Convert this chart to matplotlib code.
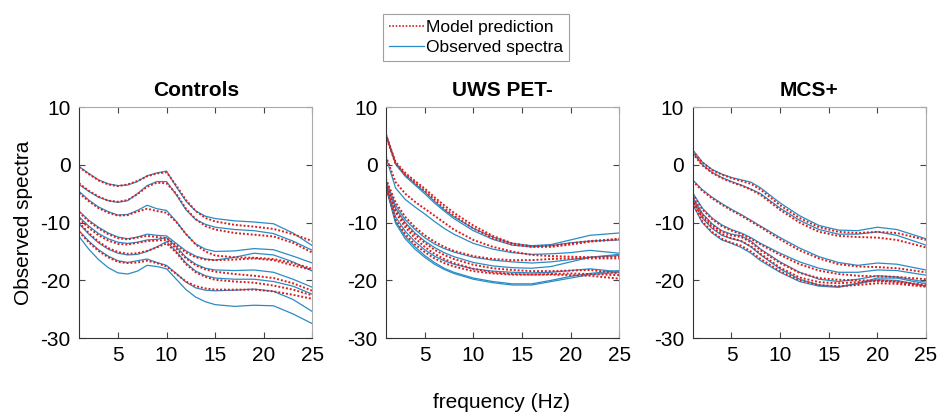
import matplotlib
matplotlib.use("Agg")
import matplotlib.pyplot as plt
from matplotlib.lines import Line2D

plt.rcParams['font.family'] = ['Liberation Sans', 'DejaVu Sans']
plt.rcParams['axes.unicode_minus'] = False

# Данные: частоты и спектры (дБ) для трёх групп
freq_ctrl = [1, 2, 3, 4, 5, 6, 7, 8, 9, 10, 11, 12, 13, 14, 15, 17, 19, 21, 23, 25]
ctrl_obs = [
    [-0.3, -1.5, -2.6, -3.3, -3.6, -3.5, -2.9, -1.9, -1.4, -1.1, -3.8, -6.3, -8.0, -8.9, -9.3, -9.7, -9.9, -10.2, -11.8, -14.0],
    [-3.4, -4.6, -5.6, -6.2, -6.5, -6.2, -5.0, -3.6, -2.9, -2.9, -5.2, -7.8, -9.5, -10.3, -10.8, -11.2, -11.4, -11.9, -13.2, -14.8],
    [-4.6, -6.1, -7.3, -8.1, -8.7, -8.6, -7.9, -7.0, -7.6, -7.9, -9.8, -12.0, -13.7, -14.6, -15.0, -14.9, -14.5, -14.7, -15.8, -17.0],
    [-8.0, -9.6, -10.8, -11.8, -12.5, -12.8, -12.5, -12.0, -12.2, -12.3, -13.6, -14.9, -15.8, -16.3, -16.5, -16.0, -15.3, -15.6, -16.8, -18.4],
    [-9.0, -10.6, -11.9, -12.8, -13.4, -13.6, -13.4, -13.0, -12.9, -12.6, -14.2, -16.0, -17.2, -17.9, -18.2, -18.3, -18.2, -18.6, -19.8, -21.2],
    [-10.2, -12.0, -13.5, -14.6, -15.3, -15.6, -15.5, -15.0, -14.2, -13.3, -15.0, -17.0, -18.4, -19.2, -19.6, -19.8, -19.8, -20.2, -21.0, -22.4],
    [-11.4, -13.2, -14.7, -15.8, -16.6, -16.9, -16.6, -16.3, -16.9, -17.4, -18.8, -20.3, -21.3, -21.7, -21.8, -21.7, -21.5, -21.9, -23.3, -25.4],
    [-12.4, -14.6, -16.4, -17.8, -18.7, -18.9, -18.4, -17.4, -17.6, -18.0, -19.8, -21.6, -22.9, -23.7, -24.2, -24.5, -24.3, -24.4, -25.8, -27.5],
]
ctrl_model = [
    [-0.4, -1.6, -2.7, -3.4, -3.7, -3.4, -2.8, -2.0, -1.5, -1.3, -3.6, -6.1, -8.0, -9.2, -9.8, -10.4, -10.7, -11.1, -12.0, -13.2],
    [-3.2, -4.5, -5.5, -6.2, -6.4, -6.1, -5.1, -3.8, -3.1, -3.2, -5.0, -7.6, -9.4, -10.6, -11.2, -11.8, -12.1, -12.4, -13.5, -15.2],
    [-4.9, -6.3, -7.5, -8.3, -8.8, -8.7, -8.1, -7.6, -8.0, -8.3, -9.9, -12.0, -13.8, -15.0, -15.7, -16.0, -16.1, -16.3, -17.0, -18.0],
    [-8.2, -9.8, -11.0, -12.0, -12.7, -12.9, -12.6, -12.3, -12.5, -12.7, -13.9, -15.2, -16.0, -16.4, -16.5, -16.4, -16.2, -16.5, -17.4, -18.2],
    [-9.3, -10.9, -12.2, -13.1, -13.7, -13.8, -13.5, -13.2, -13.1, -13.0, -14.5, -16.2, -17.4, -18.1, -18.5, -18.9, -19.2, -19.6, -20.5, -21.8],
    [-10.0, -11.8, -13.3, -14.4, -15.1, -15.4, -15.3, -14.9, -14.3, -13.6, -15.2, -17.2, -18.6, -19.4, -19.9, -20.2, -20.4, -20.9, -21.6, -22.6],
    [-11.6, -13.4, -14.9, -16.0, -16.8, -17.0, -16.9, -16.6, -17.0, -17.6, -18.9, -20.2, -21.0, -21.4, -21.6, -21.6, -21.6, -21.9, -22.5, -23.2],
]

freq_uws = [1, 2, 3, 4, 5, 6, 7, 8, 10, 12, 14, 16, 18, 20, 22, 25]
uws_obs = [
    [5.5, 0.3, -1.8, -3.3, -4.7, -6.3, -7.8, -9.0, -11.0, -12.5, -13.6, -14.0, -13.8, -13.0, -12.2, -11.8],
    [5.2, 0.1, -2.0, -3.5, -5.0, -6.6, -8.0, -9.3, -11.4, -12.9, -13.9, -14.2, -14.0, -13.5, -13.2, -13.0],
    [1.4, -4.0, -6.0, -7.3, -8.5, -9.8, -11.0, -12.0, -13.6, -14.6, -15.2, -15.5, -15.4, -15.2, -14.8, -15.3],
    [-2.6, -7.0, -9.5, -11.2, -12.6, -13.7, -14.5, -15.1, -16.0, -16.5, -16.8, -17.0, -16.8, -16.4, -16.0, -15.5],
    [-3.0, -7.5, -10.0, -11.8, -13.2, -14.3, -15.2, -15.9, -16.9, -17.5, -17.8, -17.9, -17.6, -16.8, -16.0, -15.7],
    [-3.5, -9.0, -11.5, -13.3, -14.7, -15.8, -16.6, -17.2, -18.0, -18.4, -18.6, -18.7, -18.6, -18.3, -18.0, -18.5],
    [-3.8, -10.1, -12.8, -14.6, -16.0, -17.2, -18.1, -18.8, -19.8, -20.4, -20.8, -20.8, -20.2, -19.6, -19.0, -18.6],
    [-3.7, -9.8, -12.4, -14.2, -15.7, -16.9, -17.9, -18.6, -19.6, -20.2, -20.6, -20.6, -20.0, -19.3, -18.8, -18.3],
]
uws_model = [
    [5.3, 0.5, -1.4, -2.8, -4.1, -5.6, -7.0, -8.3, -10.5, -12.3, -13.6, -14.1, -14.0, -13.6, -13.2, -12.8],
    [5.0, 0.2, -1.7, -3.1, -4.5, -6.0, -7.5, -8.8, -11.0, -12.7, -13.8, -14.2, -14.2, -13.8, -13.3, -12.9],
    [1.5, -3.0, -5.0, -6.4, -7.6, -8.8, -10.0, -11.2, -13.0, -14.2, -15.0, -15.6, -15.8, -15.9, -16.0, -15.9],
    [-2.4, -6.5, -9.0, -10.8, -12.2, -13.3, -14.2, -14.9, -15.8, -16.3, -16.5, -16.5, -16.3, -16.2, -16.2, -16.2],
    [-3.2, -7.8, -10.3, -12.1, -13.5, -14.7, -15.6, -16.3, -17.3, -17.9, -18.2, -18.4, -18.4, -18.3, -18.2, -18.8],
    [-3.3, -8.2, -10.8, -12.7, -14.2, -15.4, -16.3, -17.0, -18.0, -18.6, -18.9, -19.0, -19.0, -19.1, -19.2, -19.7],
    [-3.6, -9.5, -12.0, -13.8, -15.1, -16.2, -17.0, -17.6, -18.4, -18.8, -19.0, -19.0, -18.9, -18.8, -18.9, -19.1],
]

freq_mcs = [1, 2, 3, 4, 5, 6, 7, 8, 10, 12, 14, 16, 18, 20, 22, 25]
mcs_obs = [
    [2.6, 0.5, -0.8, -1.6, -2.2, -2.6, -3.0, -4.0, -6.6, -8.8, -10.5, -11.3, -11.4, -10.8, -11.2, -12.8],
    [2.2, 0.0, -1.3, -2.2, -2.9, -3.5, -4.2, -5.0, -7.5, -9.6, -11.2, -12.0, -12.0, -11.6, -12.2, -13.9],
    [-2.6, -4.3, -5.6, -6.7, -7.7, -8.6, -9.6, -10.6, -12.6, -14.4, -15.9, -16.9, -17.4, -17.0, -17.2, -18.2],
    [-4.8, -7.5, -9.2, -10.4, -11.2, -11.8, -12.6, -13.6, -15.3, -16.8, -17.9, -18.6, -18.6, -18.2, -18.3, -19.1],
    [-5.5, -8.4, -10.2, -11.4, -12.0, -12.3, -13.2, -14.6, -16.8, -18.6, -19.8, -20.2, -19.8, -19.2, -19.4, -20.3],
    [-6.2, -9.2, -11.0, -12.2, -12.8, -13.2, -14.2, -15.6, -18.0, -19.8, -20.8, -21.1, -20.5, -19.6, -19.6, -20.6],
    [-6.8, -10.0, -11.8, -13.0, -13.6, -14.3, -15.3, -16.6, -18.6, -20.2, -21.0, -21.2, -20.6, -19.9, -20.0, -21.0],
]
mcs_model = [
    [2.4, 0.4, -0.9, -1.7, -2.3, -2.8, -3.3, -4.3, -7.0, -9.2, -10.8, -11.6, -11.8, -11.6, -11.8, -13.0],
    [2.0, -0.1, -1.4, -2.3, -3.0, -3.6, -4.3, -5.2, -7.8, -10.0, -11.6, -12.3, -12.5, -12.6, -13.0, -14.3],
    [-2.8, -4.5, -5.8, -6.9, -7.9, -8.8, -9.8, -10.8, -12.9, -14.8, -16.2, -17.2, -17.6, -17.7, -17.9, -18.6],
    [-5.0, -7.7, -9.4, -10.6, -11.4, -12.0, -12.8, -13.8, -15.6, -17.2, -18.3, -18.9, -19.2, -19.3, -19.4, -19.8],
    [-5.7, -8.6, -10.4, -11.6, -12.2, -12.5, -13.4, -14.8, -17.0, -18.7, -19.6, -19.9, -20.0, -20.0, -20.2, -20.8],
    [-6.0, -9.0, -10.8, -12.0, -12.7, -13.2, -14.1, -15.4, -17.8, -19.5, -20.3, -20.5, -20.3, -20.1, -20.3, -21.0],
    [-6.6, -9.8, -11.6, -12.8, -13.5, -14.0, -15.0, -16.3, -18.4, -20.0, -20.8, -21.0, -20.8, -20.5, -20.6, -21.1],
]

titles = ['Controls', 'UWS PET-', 'MCS+']
panels = [
    (freq_ctrl, ctrl_obs, ctrl_model),
    (freq_uws, uws_obs, uws_model),
    (freq_mcs, mcs_obs, mcs_model),
]

obs_color = '#2a8cc4'
model_color = '#d81e1e'

fig = plt.figure(figsize=(9.41, 4.18), dpi=100)
lefts = [0.084, 0.410, 0.736]

for i, (freq, obs, model) in enumerate(panels):
    ax = fig.add_axes([lefts[i], 0.191, 0.248, 0.553])
    for y in obs:
        ax.plot(freq, y, color=obs_color, lw=0.9)
    for y in model:
        ax.plot(freq, y, color=model_color, lw=1.4, linestyle=(0, (1, 1)))
    ax.set_xlim(1, 25)
    ax.set_ylim(-30, 10)
    ax.set_xticks([5, 10, 15, 20, 25])
    ax.set_yticks([-30, -20, -10, 0, 10])
    ax.tick_params(direction='in', length=4, top=True, right=True,
                   labelsize=15, pad=6, color='#444444')
    for side in ['left', 'bottom']:
        ax.spines[side].set_color('#333333')
    for side in ['top', 'right']:
        ax.spines[side].set_color('#aaaaaa')
    ax.set_title(titles[i], fontsize=15, fontweight='bold', pad=8)
    if i == 0:
        ax.set_ylabel('Observed spectra', fontsize=15)
        ax.yaxis.set_label_coords(-0.197, 0.5)

fig.text(0.533, 0.036, 'frequency (Hz)', ha='center', va='center', fontsize=15)

handles = [
    Line2D([], [], color=model_color, lw=1.2, linestyle=(0, (1, 1))),
    Line2D([], [], color=obs_color, lw=0.9),
]
leg = fig.legend(handles, ['Model prediction', 'Observed spectra'],
                 loc='center', bbox_to_anchor=(0.506, 0.910), fontsize=12.5,
                 frameon=True, fancybox=False, edgecolor='#888888',
                 handlelength=2.0, handletextpad=0.15, borderpad=0.35,
                 labelspacing=0.3, borderaxespad=0)
leg.get_frame().set_linewidth(0.8)

plt.savefig('out.png', dpi=100)
